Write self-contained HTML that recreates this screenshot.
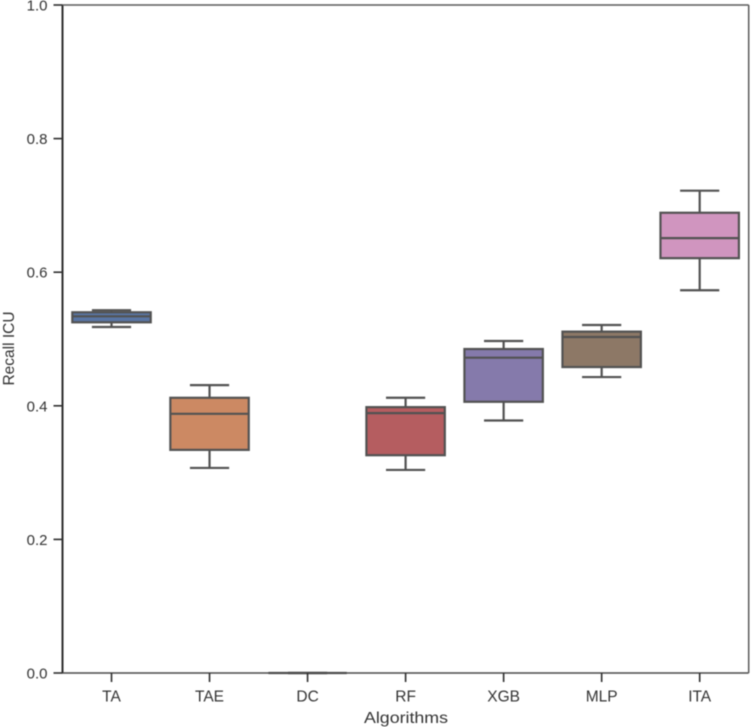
<!DOCTYPE html>
<html>
<head>
<meta charset="utf-8">
<title>Recall ICU by algorithm</title>
<style>
html,body{margin:0;padding:0;background:#fff;width:751px;height:727px;overflow:hidden}
svg{display:block;filter:blur(0.55px)}
text{font-family:"Liberation Sans",sans-serif;fill:#333333}
</style>
</head>
<body>
<svg id="chart" width="751" height="727" viewBox="0 0 751 727" xmlns="http://www.w3.org/2000/svg">
  <g id="marks"></g>
  <g id="axes"></g>
  <text x="406" y="723" font-size="16" text-anchor="middle" textLength="84" lengthAdjust="spacingAndGlyphs">Algorithms</text>
  <text x="0" y="0" font-size="15.5" text-anchor="middle" transform="translate(14 348.5) rotate(-90)">Recall ICU</text>
</svg>
<script>
const categories = ["TA","TAE","DC","RF","XGB","MLP","ITA"];
const whiskerLow = [0.518,0.307,0,0.304,0.378,0.443,0.573];
const quartile1 = [0.525,0.334,0,0.326,0.406,0.458,0.621];
const medians = [0.534,0.388,0,0.389,0.472,0.503,0.651];
const quartile3 = [0.540,0.412,0,0.398,0.485,0.511,0.689];
const whiskerHigh = [0.543,0.431,0,0.412,0.497,0.521,0.722];
const boxColors = ["#5975a4","#cc8963","#5f9e6e","#b55d60","#857aab","#8d7866","#d095bf"];
const yTickLabels = ["0.0","0.2","0.4","0.6","0.8","1.0"];

const NS = "http://www.w3.org/2000/svg";
const plot = {left:62.5, right:748.7, top:5, bottom:673};
const lineColor = "#525252";
const axisColor = "#2e2e2e";
const bandWidth = (plot.right - plot.left) / categories.length;
const xCenter = i => plot.left + bandWidth * (i + 0.5);
const yScale = v => plot.bottom - (plot.bottom - plot.top) * v;

function addLine(parent, x1, y1, x2, y2, color, width) {
  const el = document.createElementNS(NS, "line");
  el.setAttribute("x1", x1);
  el.setAttribute("y1", y1);
  el.setAttribute("x2", x2);
  el.setAttribute("y2", y2);
  el.setAttribute("stroke", color);
  el.setAttribute("stroke-width", width);
  parent.appendChild(el);
  return el;
}

const marks = document.getElementById("marks");
const axes = document.getElementById("axes");

categories.forEach((name, i) => {
  const cx = xCenter(i);
  const boxW = bandWidth * 0.8;
  const capW = boxW * 0.5;
  const g = document.createElementNS(NS, "g");
  
  
  marks.appendChild(g);

  const whiskerUp = addLine(g, cx, yScale(quartile3[i]), cx, yScale(whiskerHigh[i]), lineColor, 2.2);
  
  
  const whiskerDown = addLine(g, cx, yScale(quartile1[i]), cx, yScale(whiskerLow[i]), lineColor, 2.2);
  
  
  const capUp = addLine(g, cx - capW / 2, yScale(whiskerHigh[i]), cx + capW / 2, yScale(whiskerHigh[i]), lineColor, 2.2);
  
  
  const capDown = addLine(g, cx - capW / 2, yScale(whiskerLow[i]), cx + capW / 2, yScale(whiskerLow[i]), lineColor, 2.2);
  
  

  const rect = document.createElementNS(NS, "rect");
  rect.setAttribute("x", cx - boxW / 2);
  rect.setAttribute("y", yScale(quartile3[i]));
  rect.setAttribute("width", boxW);
  rect.setAttribute("height", yScale(quartile1[i]) - yScale(quartile3[i]));
  rect.setAttribute("fill", boxColors[i]);
  rect.setAttribute("stroke", lineColor);
  rect.setAttribute("stroke-width", 2.2);
  
  
  g.appendChild(rect);

  const med = addLine(g, cx - boxW / 2, yScale(medians[i]), cx + boxW / 2, yScale(medians[i]), lineColor, 2.2);
  
  
});

const spineLeft = addLine(axes, plot.left, plot.top, plot.left, plot.bottom, axisColor, 2);


const spineBottom = addLine(axes, plot.left, plot.bottom, plot.right, plot.bottom, "#4a4a4a", 1.6);


const spineTop = addLine(axes, plot.left, plot.top, plot.right, plot.top, "#5a5a5a", 1.5);


const spineRight = addLine(axes, plot.right, plot.top, plot.right, plot.bottom, "#5a5a5a", 1.5);



yTickLabels.forEach(label => {
  const y = yScale(parseFloat(label));
  const tick = addLine(axes, plot.left - 9, y, plot.left, y, axisColor, 1.6);
  
  
  const t = document.createElementNS(NS, "text");
  t.setAttribute("x", 47.5);
  t.setAttribute("y", y + 5.5);
  t.setAttribute("font-size", 15);
  t.setAttribute("text-anchor", "end");
  
  
  t.textContent = label;
  axes.appendChild(t);
});

categories.forEach((name, i) => {
  const x = xCenter(i);
  const tick = addLine(axes, x, plot.bottom, x, plot.bottom + 9, axisColor, 1.6);
  
  
  const t = document.createElementNS(NS, "text");
  t.setAttribute("x", x);
  t.setAttribute("y", 701.5);
  t.setAttribute("font-size", 15.5);
  t.setAttribute("text-anchor", "middle");
  
  
  t.textContent = name;
  axes.appendChild(t);
});
</script>
</body>
</html>
